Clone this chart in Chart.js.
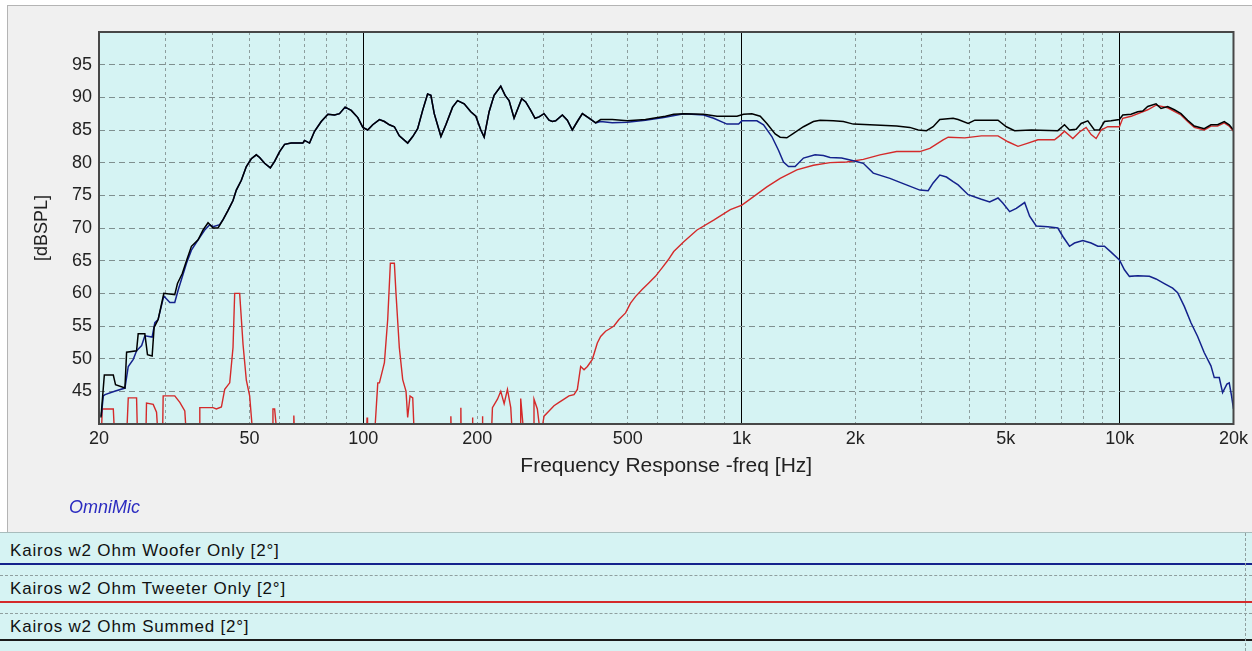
<!DOCTYPE html>
<html>
<head>
<meta charset="utf-8">
<script src="https://cdn.jsdelivr.net/npm/chart.js@4.4.0/dist/chart.umd.min.js"></script>
<style>
  body { margin:0; background:#fff; width:1252px; height:651px; overflow:hidden; position:relative;
         font-family:"Liberation Sans", Arial, sans-serif; }
  #panel { position:absolute; left:7px; top:5px; width:1245px; height:526px; background:#f0f0f0;
           border-top:1px solid #b4b4b4; border-left:1px solid #b4b4b4; }
  #wrap { position:absolute; left:0; top:0; width:1252px; height:535px; }
  #omni { position:absolute; left:69px; top:497px; font-style:italic; font-size:18px; color:#2b2bc0; }
  #legend { position:absolute; left:0; top:532px; width:1252px; height:119px; background:#d6f3f3;
            border-top:1px solid #a8bcbc; }
  .txt { position:absolute; left:10px; font-size:17px; letter-spacing:0.8px; color:#111; white-space:nowrap; }
  .ln { position:absolute; left:0; width:1252px; height:2px; }
  .dash { position:absolute; left:0; width:1252px; border-top:1px dashed #8f9f9f; }
  #vdash { position:absolute; left:1245px; top:533px; height:118px; border-left:1px dashed #8f9f9f; }
</style>
</head>
<body>
<div id="panel"></div>
<div id="wrap"><canvas id="canvas" width="1252" height="535"></canvas></div>
<div id="omni">OmniMic</div>
<div id="legend"></div>
<div id="vdash"></div>
<script>
// summed response (black)
var summedFreq = [20.24,20.66,21.82,22.12,23.42,23.66,25.14,25.39,26.44,26.87,27.64,27.98,28.67,29.68,31.72,32.25,33.19,34.07,35.11,36.57,37.69,38.85,40.05,41.29,42.57,43.88,45.23,46.15,47.58,49.05,50.56,52.12,53.19,54.83,56.76,58.27,60.07,61.92,64.46,69.2,69.9,72.07,74.3,77.4,80.6,83.9,86.5,89.5,92.9,96.7,99.7,102.7,105.9,110.3,113.7,117.2,120.8,124.5,131,135.1,139.2,143.5,147.9,150.9,154,160.4,165.3,172.2,177.5,184.8,192.4,198.4,204.5,208.7,215.1,221.7,230.9,237.1,242.9,250.4,262.3,268.8,277.1,284.5,291.5,300.5,309.8,316.1,322.6,336,346.3,357,368.1,379.5,395.2,411.5,424.2,455.2,498.7,557.2,629.2,662,703.6,794.3,861.4,972.8,1012.8,1065.4,1120.8,1167.1,1227.6,1265.5,1317.9,1372.4,1458.4,1549.7,1613.7,1749.9,1859.1,1975.7,2186.3,2571.1,2787.6,2932.3,3084.6,3212.1,3345,3627.6,3739.9,3975.9,4140.3,4768.2,5016,5276.5,5839.2,6863.9,7147.9,7368.5,7673.3,7910.1,8237.3,8578,8842.6,9115.6,9490.5,9986.9,10191,10721,11165,11509,11864,12480,12865,13397,13951,14527,15128,15754,16742,17434,18155,18905,19488,20000];
var summedDb = [41,47.5,47.5,46,45.5,51,51.2,53.8,53.8,50.6,50.4,54.8,56,60,59.8,61.5,63,65,67.2,68.2,69.7,70.8,70,70,71.3,72.7,74.2,75.8,77.3,79.4,80.6,81.2,80.8,79.9,79.2,80.2,81.7,82.8,83,83,83.4,83,84.8,86.3,87.4,87.3,87.5,88.5,88,86.9,85.4,85,85.8,86.6,86.3,85.8,85.5,84.1,83,84,85.2,88,90.5,90.3,87.5,84,85.8,88.5,89.5,89,87.8,87.1,85,83.9,87.8,90.3,91.7,90.3,89.5,86.8,89.8,89.3,88,86.8,87,87.5,86.5,86.3,86.4,87.3,86.5,85,86.3,87.5,86.8,86.1,86.6,86.6,86.4,86.6,87.1,87.4,87.5,87.4,87.1,87.1,87.4,87.5,87.1,86,84.4,83.9,83.8,84.5,85.5,86.3,86.5,86.4,86.3,85.9,85.8,85.6,85.4,85,84.9,85.5,86.6,86.8,86.6,86,86.5,86.5,85.5,84.9,85,84.9,85.8,85,85.1,86,86.4,85,85,86.3,86.4,86.6,87.3,87.4,87.8,87.9,88.6,89,88.3,88.6,88.1,87.5,86.5,85.6,85.2,85.8,85.8,86.3,85.8,85];

// woofer only (blue)
var wooferFreq = [20.28,20.53,20.75,22,23.42,23.9,24.64,25.14,25.93,26.44,27.64,28.1,28.67,29.68,30.79,31.72,32.39,34.07,35.11,36.57,38.07,39.25,40.05,41.71,42.57,43.88,45.23,46.15,47.58,49.05,50.56,52.12,53.19,54.83,56.76,58.27,60.07,61.92,64.46,69.2,69.9,72.07,74.3,77.4,80.6,83.9,86.5,89.5,92.9,96.7,99.7,102.7,105.9,110.3,113.7,117.2,120.8,124.5,131,135.1,139.2,143.5,147.9,150.9,154,160.4,165.3,172.2,177.5,184.8,192.4,198.4,204.5,208.7,215.1,221.7,230.9,237.1,242.9,250.4,262.3,268.8,277.1,284.5,291.5,300.5,309.8,316.1,322.6,336,346.3,357,368.1,379.5,395.2,411.5,424.2,455.2,498.7,557.2,622.8,703.6,794.3,844.1,915.3,982.6,1002.6,1098.3,1143.7,1203,1252.7,1291.4,1331.3,1386.4,1458.4,1565.4,1646.7,1714.8,1840.4,1975.7,2099.4,2231.1,2468.9,2676.9,2962.2,3115.9,3212.1,3345,3483.4,3627.6,3739.9,3975.9,4308.7,4532.7,4768.2,4915.3,5118.5,5330.2,5607.3,5780.4,6018,6458.5,6863.9,7075.8,7368.5,7595.9,7990.6,8405.9,8753.6,9115.6,9490.5,9986.9,10295,10613,11165,11985,12480,13128,13810,14235,14824,15438,16077,16742,17434,17791,18340,18715,19214,19488,19765,20000];
var wooferDb = [41.2,44.3,44.5,45,45.5,48.8,49.9,51.2,52,53.5,53.3,55.5,56,59.6,58.6,58.6,60.5,64.6,66.6,68.2,69.7,70.5,70.2,70.5,71.3,72.7,74.2,75.8,77.3,79.4,80.6,81.2,80.8,79.9,79.2,80.2,81.7,82.8,83,83,83.4,83,84.8,86.3,87.4,87.3,87.5,88.5,88,86.9,85.4,85,85.8,86.6,86.3,85.8,85.5,84.1,83,84,85.2,88,90.5,90.3,87.5,84,85.8,88.5,89.5,89,87.8,87.1,85,83.9,87.8,90.3,91.7,90.3,89.5,86.8,89.8,89.3,88,86.8,87,87.5,86.5,86.3,86.4,87.3,86.5,85,86.3,87.5,86.8,86.1,86.3,86.1,86.2,86.5,86.9,87.5,87.3,86.8,85.9,85.9,86.4,86.4,85.8,84,81.9,80.1,79.4,79.4,80.7,81.2,81.1,80.8,80.7,80.3,79.9,78.4,77.6,76.8,75.8,75.7,76.9,78.1,77.8,77.1,76.6,75.1,74.4,74,74.6,73.8,72.5,73,73.9,71.8,70.3,70.2,70,68.7,67.2,67.7,68.1,67.7,67.2,67.2,66.3,65.1,63.6,62.6,62.7,62.6,62.2,61.5,60.8,60.1,58,55.5,53.4,50.9,48.9,47.1,47.1,44.8,46.1,46.3,44.3,42.3];

// tweeter only (red); 38 = below the axis floor
var tweeterFreq = [20.28,20.4,21.82,22,23.66,23.9,25.14,25.29,26.6,26.71,27.82,28.39,28.67,29.45,29.56,31.72,32.72,33.72,34.07,36.8,36.95,40.05,40.87,42.14,43,44.33,45.23,45.69,47.1,48.07,49.05,50.05,51.08,57.5,57.68,58.27,59.22,65.2,65.5,65.8,102,102.3,102.6,107,109.2,110.3,113.7,116,117.9,120.8,122,124.5,127.1,129.7,131,132.9,135.1,136.4,170,170.4,171,181,181.1,181.5,194,194.4,194.8,206,206.5,207,218,219.5,226.3,230.9,235.7,240.5,245.4,247.9,260,260.7,266.1,282,282.7,288.5,294.5,300.5,309.8,319.3,329.2,339.5,349.8,360.6,368.1,375.6,383.4,391.3,403.3,415.7,424.2,437.1,446,460,474.2,493.7,508.9,524.4,546,568.6,592.1,616.6,639.6,662,703.6,762.8,844.1,934.2,1002.6,1076.3,1167.1,1265.5,1400.5,1549.7,1714.8,1897.2,2099.4,2323.4,2571.1,2962.2,3147.7,3413.5,3519.8,3895.9,4308.7,4768.2,5066.9,5384.5,5722.1,6079.4,6726.2,6933.8,7147.9,7519.4,7830.4,8154.2,8405.9,8665.4,8932.7,9300.1,9986.9,10191,10721,11864,12480,13397,14527,15128,15754,16742,17434,18155,18905,19488,20000];
var tweeterDb = [38,42.3,42.3,38,38,44,44,38,38,43.2,43,41.8,38,38,44.3,44.3,43.3,42,38,38,42.5,42.5,42.3,42.6,45.3,46.3,51.7,60,60,52.2,46.7,44.3,38,38,42.3,42.3,38,38,41.3,38,38,41,38,38,46.3,46.3,49.4,56,64.6,64.6,60,51.7,46.8,45,41,44.3,44,38,38,41.2,38,38,42.5,38,38,41,38,38,41.2,38,38,42.5,43.8,45,43.1,45.3,42.5,38,38,43.9,38,38,43.8,42.3,38,41.2,42,42.8,43.3,43.8,44.3,44.5,45.3,48.8,48.3,48.8,49.9,52.4,53.4,54.2,54.5,55,56,57,58.5,59.5,60.6,61.6,62.6,63.9,65.1,66.4,67.9,69.7,71.2,72.8,73.5,74.8,76.3,77.6,78.9,79.6,80,80.1,80.5,81.2,81.7,81.7,82.2,83.5,83.9,83.8,84.1,84.1,83.2,82.5,83,83.5,83.5,84.1,84.8,83.7,84.7,85.4,84.3,83.7,85,85.5,85.5,86.8,87.1,88.1,88.8,88.4,87.3,86.3,85.4,85,85.6,85.6,86.1,85.6,84.8];

// axes
var xGridValues = [20,30,40,50,60,70,80,90,100,200,300,400,500,600,700,800,900,1000,2000,3000,4000,5000,6000,7000,8000,9000,10000,20000];
var xLabelValues = [20,50,100,200,500,1000,2000,5000,10000,20000];
var xLabelText = ['20','50','100','200','500','1k','2k','5k','10k','20k'];
var yGridValues = [40,45,50,55,60,65,70,75,80,85,90,95,100];
var legendNames = ['Kairos w2 Ohm Woofer Only [2°]','Kairos w2 Ohm Tweeter Only [2°]','Kairos w2 Ohm Summed [2°]'];
var legendColors = ['#14228c','#d42a2a','#1a1a1a'];

var FONT = '"Liberation Sans", Arial, sans-serif';

function pts(fs, ds) {
  return fs.map(function(f, i) { return {x: f, y: ds[i]}; });
}
function isDecade(v) {
  return v === 100 || v === 1000 || v === 10000;
}

var plotBg = {
  id: 'plotBg',
  beforeDraw: function(chart) {
    var a = chart.chartArea, c = chart.ctx;
    c.save();
    c.fillStyle = '#d5f3f3';
    c.fillRect(a.left, a.top, a.right - a.left, a.bottom - a.top);
    c.restore();
  },
  afterDraw: function(chart) {
    var a = chart.chartArea, c = chart.ctx;
    c.save();
    c.strokeStyle = '#474747';
    c.lineWidth = 2;
    c.strokeRect(a.left, a.top, a.right - a.left, a.bottom - a.top);
    c.restore();
  }
};

new Chart(document.getElementById('canvas').getContext('2d'), {
  type: 'line',
  data: {
    datasets: [
      { label: legendNames[2], data: pts(summedFreq, summedDb), borderColor: '#000000', borderWidth: 1.5 },
      { label: legendNames[0], data: pts(wooferFreq, wooferDb), borderColor: '#14228c', borderWidth: 1.5 },
      { label: legendNames[1], data: pts(tweeterFreq, tweeterDb), borderColor: '#d42a2a', borderWidth: 1.4 }
    ]
  },
  options: {
    responsive: false,
    animation: false,
    layout: { padding: { top: 32, right: 16, bottom: 41, left: 0 } },
    elements: { point: { radius: 0 }, line: { tension: 0 } },
    plugins: { legend: { display: false }, tooltip: { enabled: false } },
    scales: {
      x: {
        type: 'logarithmic', min: 20, max: 20000,
        afterBuildTicks: function(s) { s.ticks = xGridValues.map(function(v) { return {value: v}; }); },
        afterFit: function(s) { s.height = 70; },
        ticks: {
          autoSkip: false, maxRotation: 0, padding: 4, color: '#222',
          font: { size: 18, family: FONT },
          callback: function(v) {
            var i = xLabelValues.indexOf(v);
            return i < 0 ? '' : xLabelText[i];
          }
        },
        grid: {
          drawTicks: false, lineWidth: 1,
          color: function(c) {
            var v = c.tick && c.tick.value;
            if (v === 20 || v === 20000) return 'rgba(0,0,0,0)';
            return isDecade(v) ? '#000000' : '#8d9d9d';
          }
        },
        border: {
          display: false,
          dash: function(c) { return isDecade(c.tick && c.tick.value) ? [] : [3, 3]; }
        },
        title: {
          display: true, text: 'Frequency Response -freq [Hz]', color: '#222',
          font: { size: 21, family: FONT }, padding: { top: 0, bottom: 15 }
        }
      },
      y: {
        min: 40, max: 100,
        afterBuildTicks: function(s) { s.ticks = yGridValues.map(function(v) { return {value: v}; }); },
        afterFit: function(s) { s.width = 99; },
        ticks: {
          padding: 7, color: '#222',
          font: { size: 18, family: FONT },
          callback: function(v) { return (v === 40 || v === 100) ? '' : String(v); }
        },
        grid: {
          drawTicks: false, lineWidth: 1,
          color: function(c) {
            var v = c.tick && c.tick.value;
            return (v === 40 || v === 100) ? 'rgba(0,0,0,0)' : '#7f8f8f';
          }
        },
        border: { display: false, dash: [6, 4] },
        title: {
          display: true, text: '[dBSPL]', color: '#222',
          font: { size: 18, family: FONT }, padding: { top: 31, bottom: 0 }
        }
      }
    }
  },
  plugins: [plotBg]
});

// legend rows under the chart
var lg = document.getElementById('legend');
legendNames.forEach(function(name, i) {
  var t = document.createElement('div');
  t.className = 'txt';
  t.style.top = (8 + 38 * i) + 'px';
  t.textContent = name;
  lg.appendChild(t);
  var l = document.createElement('div');
  l.className = 'ln';
  l.style.top = (30 + 38 * i) + 'px';
  l.style.background = legendColors[i];
  lg.appendChild(l);
  var d = document.createElement('div');
  d.className = 'dash';
  d.style.top = (42 + 38 * i) + 'px';
  lg.appendChild(d);
});
</script>
</body>
</html>
